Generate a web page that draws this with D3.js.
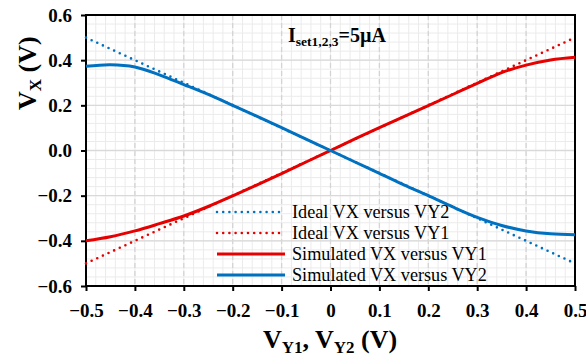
<!DOCTYPE html>
<html>
<head>
  <script src="https://cdn.jsdelivr.net/npm/d3@7"></script>
  <style>
    body { margin: 0; background: #fff; }
    text { font-family: "Liberation Serif", "Times New Roman", serif; }
  </style>
</head>
<body>
<script>
// sweep voltage VY (V)
const vy = [-0.5, -0.45, -0.4, -0.35, -0.3, -0.25, -0.2, -0.15, -0.1, -0.05, 0,
            0.05, 0.1, 0.15, 0.2, 0.25, 0.3, 0.35, 0.4, 0.45, 0.5];
// simulated VX (V)
const simVY1 = [-0.400, -0.382, -0.356, -0.324, -0.290, -0.248, -0.201, -0.152, -0.102, -0.051, 0.000,
                0.051, 0.101, 0.150, 0.199, 0.248, 0.297, 0.345, 0.378, 0.401, 0.413];
const simVY2 = [0.373, 0.380, 0.370, 0.335, 0.292, 0.248, 0.200, 0.151, 0.101, 0.050, 0.000,
                -0.051, -0.101, -0.152, -0.200, -0.250, -0.296, -0.332, -0.356, -0.369, -0.373];
// ideal VX
const idealVY1 = [-0.5, 0.5];
const idealVY2 = [0.5, -0.5];
const idealX = [-0.5, 0.5];

const xTicks = [-0.5, -0.4, -0.3, -0.2, -0.1, 0, 0.1, 0.2, 0.3, 0.4, 0.5];
const yTicks = [-0.6, -0.4, -0.2, 0, 0.2, 0.4, 0.6];

const w = 586, h = 358;
const red = "#e60000", blue = "#0070c0";

const x = d3.scaleLinear().domain([-0.5, 0.5]).range([86, 575]);
const y = d3.scaleLinear().domain([-0.6, 0.6]).range([286, 15]);

const svg = d3.select("body").append("svg").attr("width", w).attr("height", h);

// minor grid
const grid = svg.append("g");
grid.selectAll("line.mx").data(d3.range(-0.5, 0.5001, 0.02)).enter().append("line")
  .attr("x1", d => x(d)).attr("x2", d => x(d)).attr("y1", y(0.6)).attr("y2", y(-0.6))
  .attr("stroke", "#ebebeb").attr("stroke-width", 1);
grid.selectAll("line.my").data(d3.range(-0.6, 0.6001, 0.04)).enter().append("line")
  .attr("y1", d => y(d)).attr("y2", d => y(d)).attr("x1", x(-0.5)).attr("x2", x(0.5))
  .attr("stroke", "#ebebeb").attr("stroke-width", 1);
// major grid
grid.selectAll("line.Mx").data(xTicks).enter().append("line")
  .attr("x1", d => x(d)).attr("x2", d => x(d)).attr("y1", y(0.6)).attr("y2", y(-0.6))
  .attr("stroke", "#d4d4d4").attr("stroke-width", 1.3).attr("stroke-dasharray", "5,3");
grid.selectAll("line.My").data(yTicks).enter().append("line")
  .attr("y1", d => y(d)).attr("y2", d => y(d)).attr("x1", x(-0.5)).attr("x2", x(0.5))
  .attr("stroke", "#d9d9d9").attr("stroke-width", 1.3);

// axes
const xAxis = svg.append("g").attr("transform", `translate(0,${y(-0.6)})`)
  .call(d3.axisBottom(x).tickValues(xTicks).tickSize(5).tickPadding(8)
    .tickFormat(d => d === 0 ? "0" : d3.format(".1f")(d)));
const yAxis = svg.append("g").attr("transform", `translate(${x(-0.5)},0)`)
  .call(d3.axisLeft(y).tickValues(yTicks).tickSize(5).tickPadding(10)
    .tickFormat(d3.format(".1f")));
[xAxis, yAxis].forEach(a => {
  a.select(".domain").remove();
  a.selectAll("line").attr("stroke", "#000").attr("stroke-width", 2);
  a.selectAll("text").attr("font-size", 19).attr("font-weight", "bold")
    .attr("fill", "#000");
});
xAxis.selectAll("text").attr("y", 31).attr("dy", null);
yAxis.selectAll("text").attr("x", -14);

// frame
svg.append("rect").attr("x", x(-0.5)).attr("y", y(0.6))
  .attr("width", x(0.5) - x(-0.5)).attr("height", y(-0.6) - y(0.6))
  .attr("fill", "none").attr("stroke", "#000").attr("stroke-width", 2);

// lines
const line = d3.line().x(d => x(d[0])).y(d => y(d[1])).curve(d3.curveCatmullRom);
const series = [
  { xs: idealX, ys: idealVY2, color: blue, dotted: true, name: "Ideal VX versus VY2" },
  { xs: idealX, ys: idealVY1, color: red, dotted: true, name: "Ideal VX versus VY1" },
  { xs: vy, ys: simVY1, color: red, dotted: false, name: "Simulated VX versus VY1" },
  { xs: vy, ys: simVY2, color: blue, dotted: false, name: "Simulated VX versus VY2" }
];
series.forEach(s => {
  svg.append("path").datum(s.xs.map((v, i) => [v, s.ys[i]]))
    .attr("d", line).attr("fill", "none").attr("stroke", s.color)
    .attr("stroke-width", s.dotted ? 2.6 : 3)
    .attr("stroke-linecap", s.dotted ? "round" : "butt")
    .attr("stroke-dasharray", s.dotted ? "0,6.2" : null);
});

// legend
const leg = svg.append("g");
series.forEach((s, i) => {
  const ly = 212 + i * 21;
  leg.append("line").attr("x1", 217).attr("x2", 285).attr("y1", ly).attr("y2", ly)
    .attr("stroke", s.color).attr("stroke-width", s.dotted ? 2.6 : 3)
    .attr("stroke-linecap", s.dotted ? "round" : "butt")
    .attr("stroke-dasharray", s.dotted ? "0,6.2" : null);
  leg.append("text").attr("x", 292).attr("y", ly + 6).attr("font-size", 18.2)
    .attr("fill", "#000").text(s.name);
});

// title
const t = svg.append("text").attr("x", 288).attr("y", 42)
  .attr("font-size", 20).attr("font-weight", "bold").attr("fill", "#000");
t.append("tspan").text("I");
t.append("tspan").attr("font-size", 13.5).attr("dy", 4).text("set1,2,3");
t.append("tspan").attr("dy", -4).text("=5µA");

// axis titles
const xl = svg.append("text").attr("x", 330).attr("y", 348).attr("text-anchor", "middle")
  .attr("font-size", 26).attr("font-weight", "bold").attr("fill", "#000");
xl.append("tspan").text("V");
xl.append("tspan").attr("font-size", 17).attr("dy", 5).text("Y1");
xl.append("tspan").attr("dy", -5).text(", V");
xl.append("tspan").attr("font-size", 17).attr("dy", 5).text("Y2");
xl.append("tspan").attr("dy", -5).text(" (V)");

const yl = svg.append("text").attr("transform", "translate(36,110) rotate(-90)")
  .attr("text-anchor", "start")
  .attr("font-size", 26).attr("font-weight", "bold").attr("fill", "#000");
yl.append("tspan").text("V");
yl.append("tspan").attr("font-size", 17).attr("dy", 5).text("X");
yl.append("tspan").attr("dy", -5).text(" (V)");
</script>
</body>
</html>
